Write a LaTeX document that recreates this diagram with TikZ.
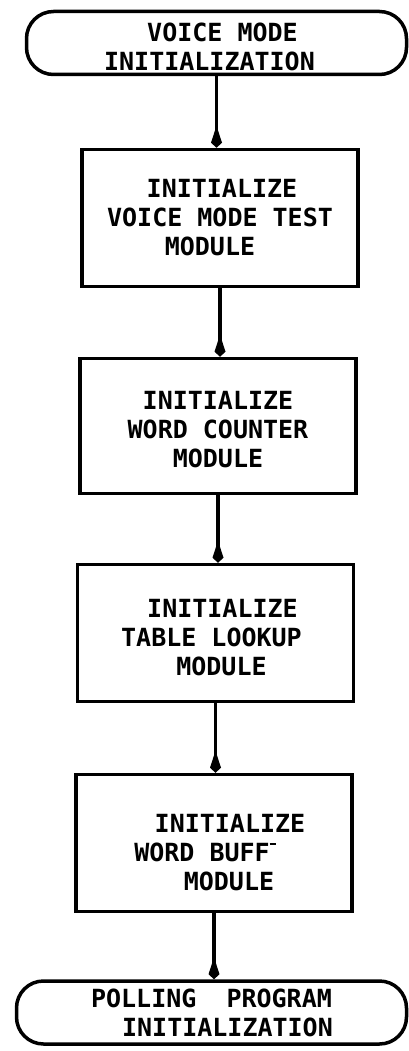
\documentclass[tikz,border=0pt]{standalone}
\usepackage{fontspec}
\setmonofont{DejaVu Sans Mono}
\usetikzlibrary{arrows.meta,positioning,calc}
\newcommand{\nudge}[2]{\hspace*{#1}#2\hspace*{-#1}}

\begin{document}
\begin{tikzpicture}[x=1pt,y=1pt,
    box/.style={draw, line width=3.5pt, minimum width=276pt, minimum height=137pt,
        inner sep=0pt, align=center, font=\ttfamily\bfseries\fontsize{25}{29}\selectfont},
    term/.style={box, rounded corners=27pt, minimum height=63pt},
    flow/.style={line width=3.5pt, -{Kite[length=22pt,width=11pt,inset=17pt]}}]
    \useasboundingbox (0,0) rectangle (409,-1051);

    % start / end terminals
    \node[term, minimum width=380pt] (start) at (216.5,-43)
        {\rule{0pt}{26pt}\nudge{6pt}{VOICE MODE}\\\nudge{-7pt}{INITIALIZATION}};
    \node[term, minimum width=390pt] (stop) at (211.5,-1012.5)
        {POLLING\ \ PROGRAM\\\nudge{16pt}{INITIALIZATION}};

    % module boxes
    \node[box] (vtest) at (220,-218)
        {\nudge{2pt}{INITIALIZE}\\VOICE MODE TEST\\\nudge{-10pt}{MODULE}};
    \node[box, minimum height=135pt] (wcount) at (218,-426)
        {\rule{0pt}{25pt}INITIALIZE\\WORD COUNTER\\MODULE};
    \node[box] (lookup) at (215.5,-633)
        {\rule{0pt}{27pt}\nudge{7pt}{INITIALIZE}\\\nudge{-8pt}{TABLE LOOKUP}\\\nudge{6pt}{MODULE}};
    \node[box] (wbuff) at (214,-843)
        {\rule{0pt}{37pt}\nudge{16pt}{INITIALIZE}\\\nudge{-18pt}{WORD BUFF\raisebox{1.2ex}{\rule{6pt}{1.5pt}}}\\\nudge{15pt}{MODULE}};

    % connectors
    \foreach \a/\b in {start/vtest, vtest/wcount, wcount/lookup, lookup/wbuff, wbuff/stop}
        \draw[flow] (\a.south) -- (\a.south |- \b.north);
\end{tikzpicture}
\end{document}
